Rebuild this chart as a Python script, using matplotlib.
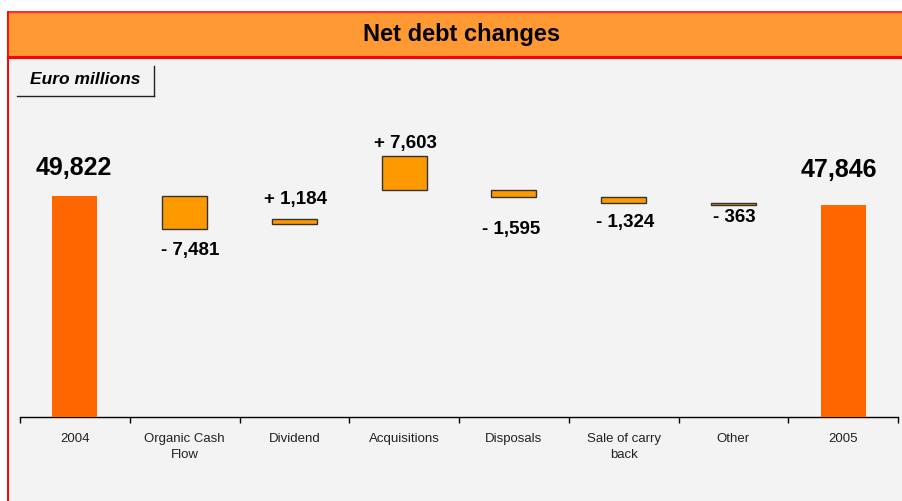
import matplotlib
matplotlib.use('Agg')
import matplotlib.pyplot as plt
from matplotlib.patches import Rectangle
from matplotlib.lines import Line2D

# chart data (Euro millions)
categories = ['2004', 'Organic Cash\nFlow', 'Dividend', 'Acquisitions', 'Disposals',
              'Sale of carry\nback', 'Other', '2005']
changes = [49822, -7481, 1184, 7603, -1595, -1324, -363, 47846]
labels = ['49,822', '- 7,481', '+ 1,184', '+ 7,603', '- 1,595', '- 1,324', '- 363', '47,846']
# hidden base series of the waterfall, as drawn in the original
base = [0, 42341, 43525, 51128, 49533, 48209, 47846, 0]
is_total = [True, False, False, False, False, False, False, True]

# label placement (pixels): x shift, y gap from box edge
lab_dx = [-1, 6, 1, 1, -3, 2, 1, -4]
lab_gap = [28, 21, 19, 13, 32, 19, 13, 35]

W, H = 902, 501
plt.rcParams['font.family'] = ['Liberation Sans', 'DejaVu Sans']

fig = plt.figure(figsize=(W / 100, H / 100), dpi=100)
fig.patch.set_facecolor('white')

def fx(px):
    return px / W

def fy(py):
    return 1 - py / H

# grey panel with red frame (bottom and right run off the picture)
fig.add_artist(Rectangle((fx(8), fy(530)), fx(920 - 8), fy(12) - fy(530), transform=fig.transFigure,
                         facecolor='#F3F3F3', edgecolor='#FF0000', lw=1.2, zorder=0))
# title bar
fig.add_artist(Rectangle((fx(8), fy(57)), fx(920 - 8), fy(12) - fy(57), transform=fig.transFigure,
                         facecolor='#FF9933', edgecolor='none', zorder=1))
fig.add_artist(Line2D([fx(8), 1], [fy(57), fy(57)], transform=fig.transFigure,
                      color='#FF0000', lw=2.2, zorder=2))
fig.add_artist(Line2D([fx(8), 1], [fy(12), fy(12)], transform=fig.transFigure,
                      color='#FF3333', lw=1.0, zorder=2))
fig.add_artist(Line2D([fx(8), fx(8)], [fy(12), fy(530)], transform=fig.transFigure,
                      color='#FF0000', lw=1.2, zorder=2))
fig.text(fx(462), fy(35), 'Net debt changes', ha='center', va='center',
         fontsize=17, fontweight='bold', color='black')

# "Euro millions" box
fig.text(fx(30), fy(80), 'Euro millions', ha='left', va='center',
         fontsize=12.5, fontweight='bold', style='italic', color='black')
fig.add_artist(Line2D([fx(17), fx(154)], [fy(96), fy(96)], transform=fig.transFigure,
                      color='#222222', lw=1.0))
fig.add_artist(Line2D([fx(154), fx(154)], [fy(66), fy(96)], transform=fig.transFigure,
                      color='#222222', lw=1.0))

# plot area
ymax = 70000
ax_bottom = 417
ax_top = ax_bottom - ymax * 221 / 49822
ax = fig.add_axes([fx(20), fy(ax_bottom), fx(898 - 20), fy(ax_top) - fy(ax_bottom)])
ax.set_facecolor('none')
ax.set_xlim(-0.5, len(categories) - 0.5)
ax.set_ylim(0, ymax)

x = list(range(len(categories)))
heights = [abs(v) for v in changes]
for i in x:
    if is_total[i]:
        ax.bar(i, heights[i], bottom=base[i], width=0.41, color='#FF6600',
               edgecolor='none', zorder=3)
    else:
        ax.bar(i, heights[i], bottom=base[i], width=0.41, color='#FF9900',
               edgecolor='#333333', linewidth=1.0, zorder=3)

for i in x:
    big = is_total[i]
    above = changes[i] > 0
    y = base[i] + heights[i] if above else base[i]
    ax.annotate(labels[i], xy=(i, y), xytext=(lab_dx[i], lab_gap[i] if above else -lab_gap[i]),
                textcoords='offset pixels', ha='center', va='center',
                fontsize=18 if big else 13.5, fontweight='bold', color='black',
                annotation_clip=False)

for s in ['top', 'right', 'left']:
    ax.spines[s].set_visible(False)
ax.spines['bottom'].set_color('black')
ax.spines['bottom'].set_linewidth(1.0)
ax.set_yticks([])
ax.set_xticks(x)
ax.set_xticklabels(categories, fontsize=9.5, color='#222222', linespacing=1.45, va='top')
ax.tick_params(axis='x', which='major', length=0, pad=11.5)
ax.set_xticks([i - 0.5 for i in range(len(categories) + 1)], minor=True)
ax.tick_params(axis='x', which='minor', length=4, width=1.0, color='black', direction='out')

fig.savefig('out.png', dpi=100)
